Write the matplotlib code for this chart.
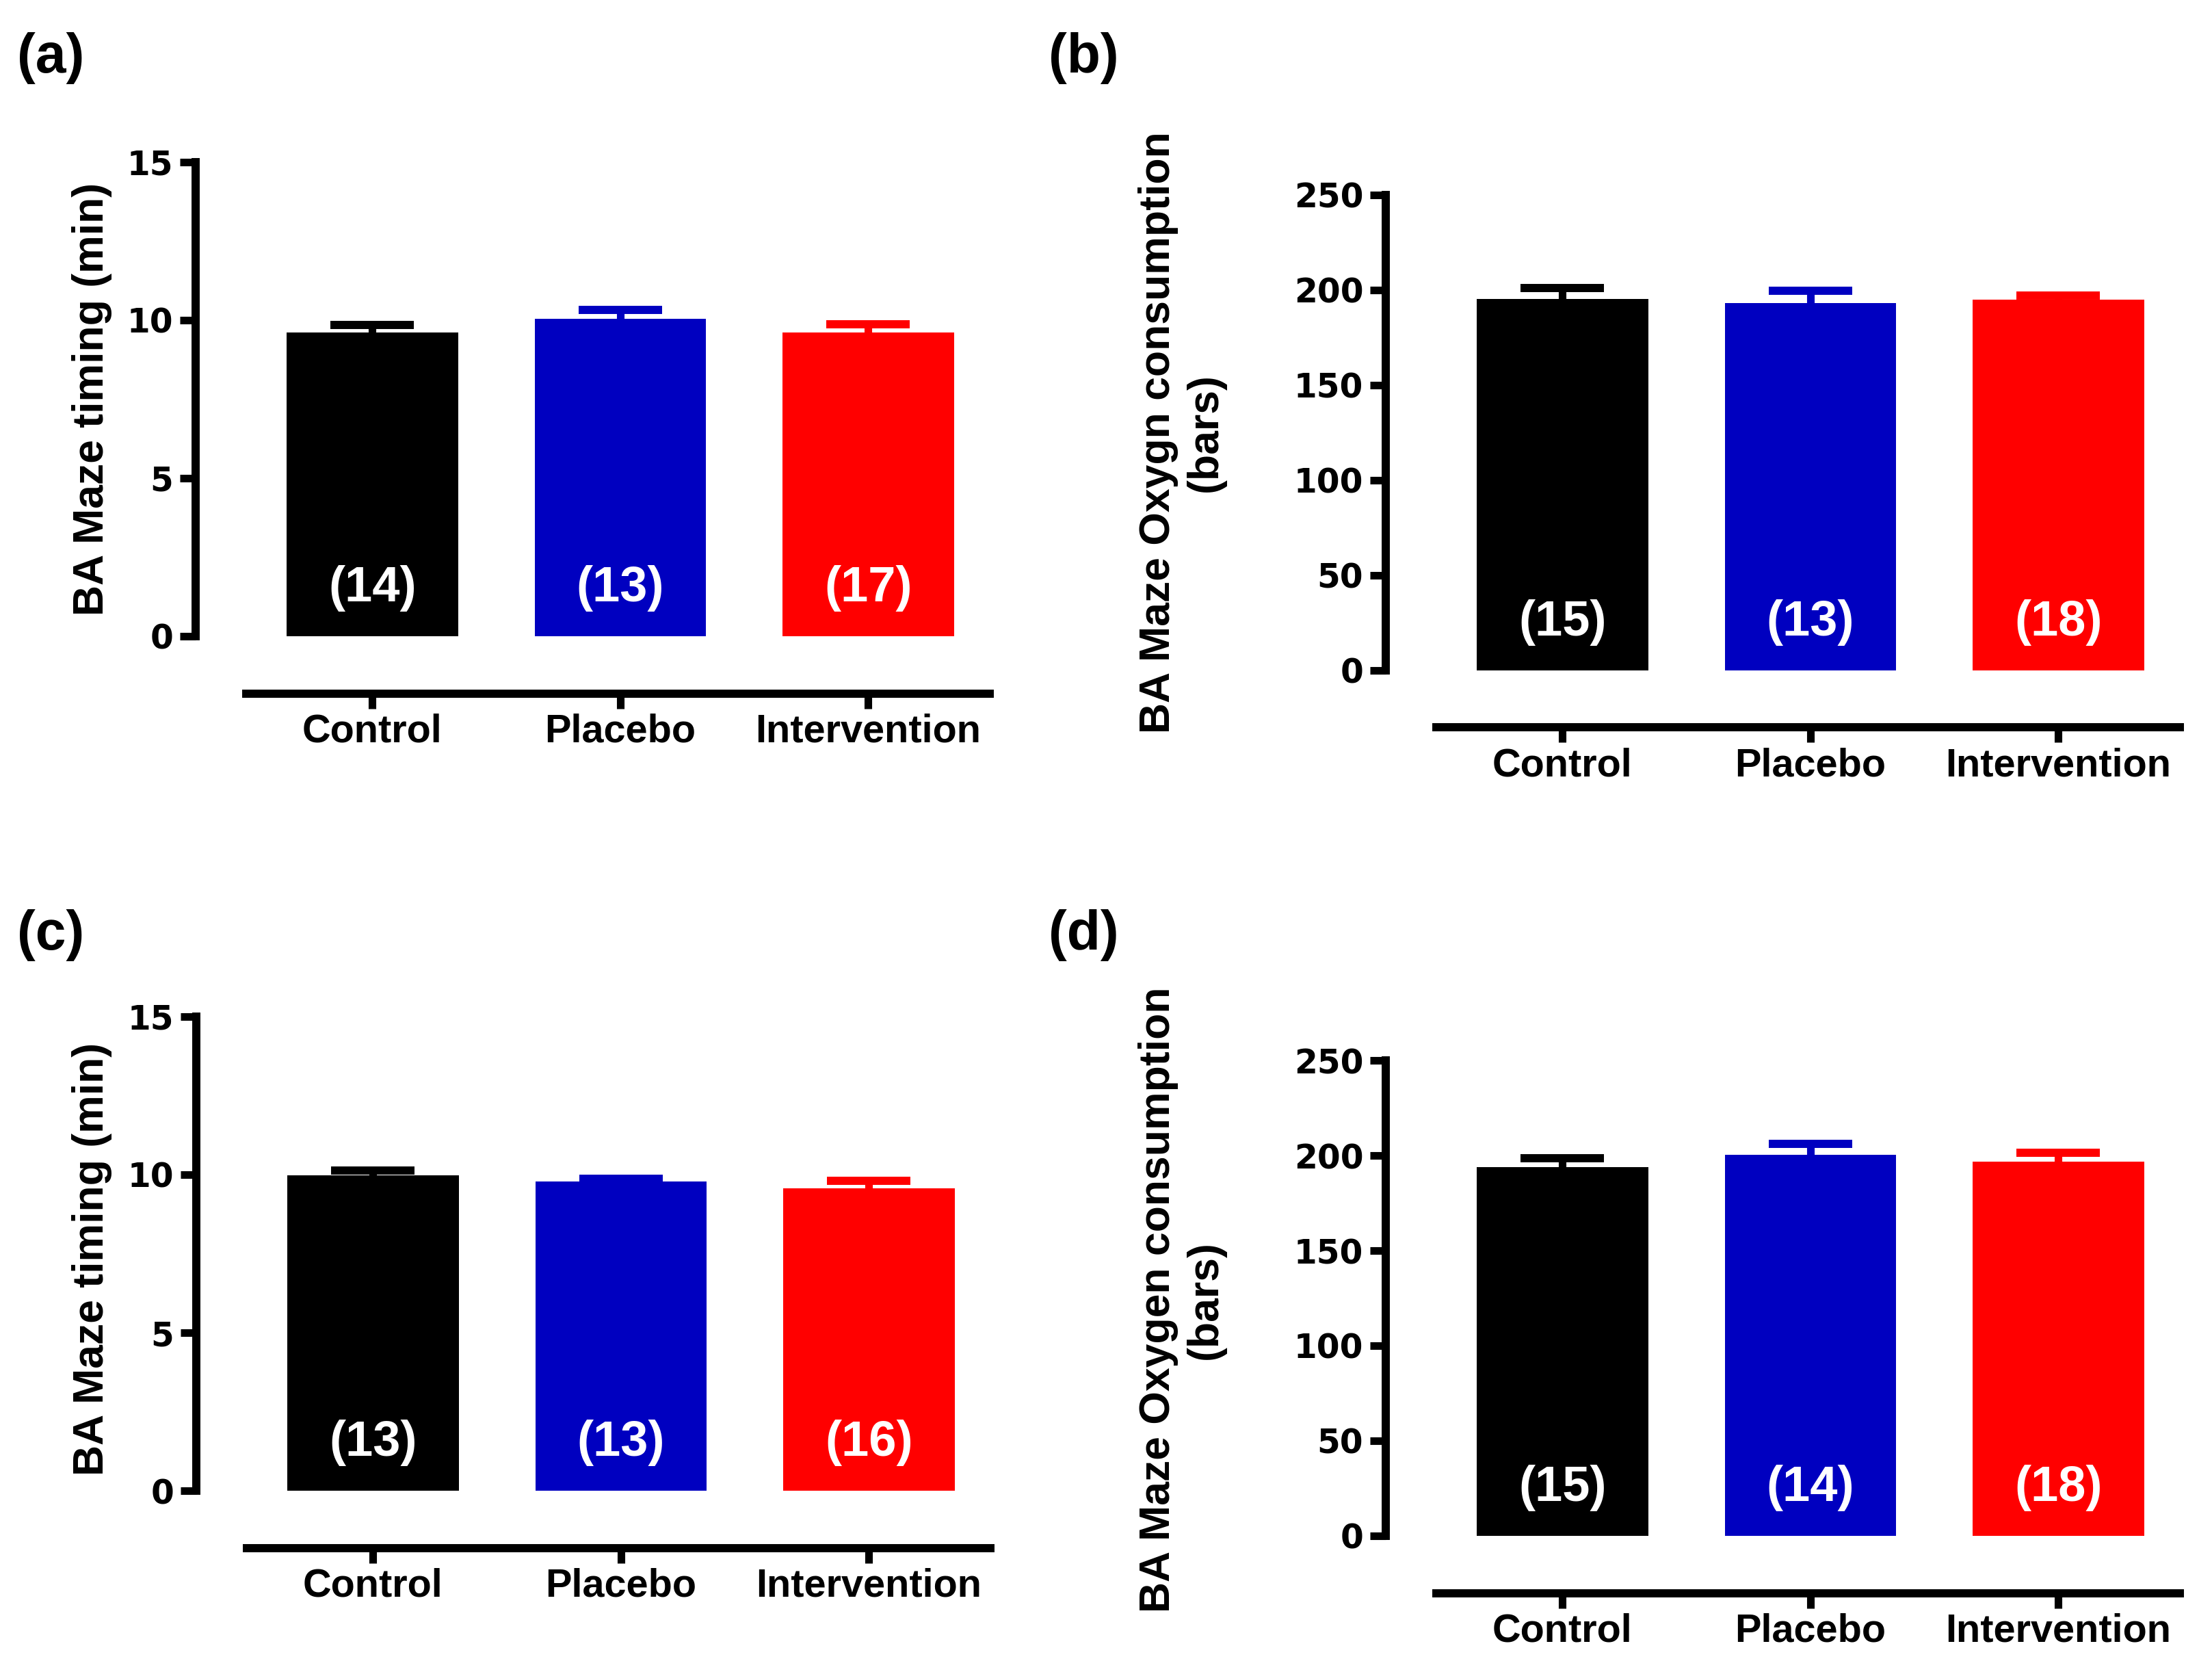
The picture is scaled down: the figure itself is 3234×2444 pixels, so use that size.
import matplotlib
matplotlib.use('Agg')
import matplotlib.pyplot as plt

plt.rcParams['font.family'] = ['Liberation Sans', 'DejaVu Sans']
plt.rcParams['font.weight'] = 'bold'

groups = ['Control', 'Placebo', 'Intervention']
colors = ['#000000', '#0000C0', '#FF0000']

# (a) BA maze timing
timing_a = [9.60, 10.04, 9.60]
timing_a_sem = [0.25, 0.28, 0.26]
n_a = ['(14)', '(13)', '(17)']

# (b) BA maze oxygen consumption
oxy_b = [195.2, 193.1, 194.9]
oxy_b_sem = [5.8, 6.3, 2.3]
n_b = ['(15)', '(13)', '(18)']

# (c) BA maze timing
timing_c = [9.98, 9.79, 9.57]
timing_c_sem = [0.14, 0.09, 0.23]
n_c = ['(13)', '(13)', '(16)']

# (d) BA maze oxygen consumption
oxy_d = [193.9, 200.4, 196.8]
oxy_d_sem = [4.7, 5.7, 4.8]
n_d = ['(15)', '(14)', '(18)']

W, H = 3234, 2444
fig = plt.figure(figsize=(W / 100, H / 100), dpi=100)


def add_axes_px(left, top, bottom, width):
    # positions given in figure pixels from the top left corner
    return fig.add_axes([left / W, 1 - bottom / H, width / W, (bottom - top) / H])


def draw_panel(ax, values, sems, counts, ymax, ystep, count_y):
    x = list(range(len(groups)))
    ax.bar(x, values, width=0.69, color=colors, zorder=2)
    for i in x:
        _, caps, _ = ax.errorbar(i, values[i], yerr=[[0], [sems[i]]], fmt='none',
                                 ecolor=colors[i], elinewidth=8, capsize=44,
                                 capthick=8.6, zorder=3)
        for c in caps:
            if c.get_ydata()[0] <= values[i]:
                c.set_visible(False)
        ax.text(i, count_y, counts[i], color='white', ha='center', va='center',
                fontsize=52, fontweight='bold', zorder=4)

    ax.set_xlim(-0.713, 2.52)
    ax.set_ylim(-ymax / 60, ymax + ymax / 60)
    ax.spines['top'].set_visible(False)
    ax.spines['right'].set_visible(False)
    ax.spines['left'].set_bounds(0, ymax)
    ax.spines['left'].set_linewidth(8.6)
    ax.spines['bottom'].set_position(('outward', 52))
    ax.spines['bottom'].set_bounds(-0.51, 2.49)
    ax.spines['bottom'].set_linewidth(8.6)

    ax.set_xticks(x)
    ax.set_xticklabels(groups)
    ax.set_yticks(list(range(0, ymax + 1, ystep)))
    ax.tick_params(axis='y', length=16.5, width=8, pad=7, labelsize=35)
    ax.tick_params(axis='x', length=16, width=8, pad=5, labelsize=41.5)
    for lbl in ax.get_yticklabels():
        lbl.set_family('DejaVu Sans')
        lbl.set_weight('bold')
    for lbl in ax.get_xticklabels():
        lbl.set_weight('bold')


ax_a = add_axes_px(286, 225.2, 941.3, 1172)
draw_panel(ax_a, timing_a, timing_a_sem, n_a, 15, 5, 1.52)

ax_b = add_axes_px(2026, 273.2, 991.2, 1172)
draw_panel(ax_b, oxy_b, oxy_b_sem, n_b, 250, 50, 25.2)

ax_c = add_axes_px(287, 1474.4, 2190.6, 1172)
draw_panel(ax_c, timing_c, timing_c_sem, n_c, 15, 5, 1.52)

ax_d = add_axes_px(2026, 1538.5, 2256.5, 1172)
draw_panel(ax_d, oxy_d, oxy_d_sem, n_d, 250, 50, 25.2)

# y axis titles
fig.text(135 / W, 1 - 583 / H, 'BA Maze timing (min)', rotation=90,
         ha='center', va='center', fontsize=45, fontweight='bold')
fig.text(135 / W, 1 - 1840 / H, 'BA Maze timing (min)', rotation=90,
         ha='center', va='center', fontsize=45, fontweight='bold')
fig.text(1728 / W, 1 - 632 / H, 'BA Maze Oxygn consumption\n(bars)', rotation=90,
         ha='center', va='center', fontsize=45, fontweight='bold', multialignment='center')
fig.text(1728 / W, 1 - 1900 / H, 'BA Maze Oxygen consumption\n(bars)', rotation=90,
         ha='center', va='center', fontsize=45, fontweight='bold', multialignment='center')

# panel letters
for letter, px, py in [('(a)', 25, 85), ('(b)', 1533, 85), ('(c)', 25, 1367), ('(d)', 1533, 1367)]:
    fig.text(px / W, 1 - py / H, letter, ha='left', va='center', fontsize=58, fontweight='bold')

fig.savefig('out.png', dpi=100, facecolor='white')
